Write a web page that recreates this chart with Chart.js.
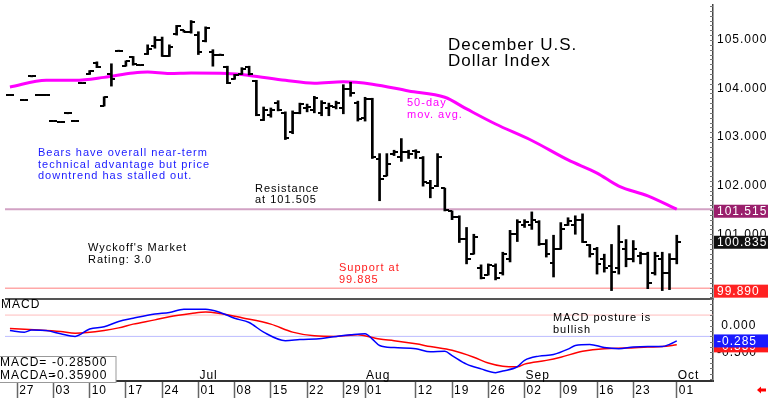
<!DOCTYPE html>
<html>
<head>
<meta charset="utf-8">
<script src="https://cdn.jsdelivr.net/npm/chart.js@4.4.1/dist/chart.umd.min.js"></script>
<style>
html,body{margin:0;padding:0;background:#fff}
canvas{display:block}
</style>
</head>
<body>
<canvas id="chart" width="768" height="398"></canvas>
<script>
// trading-day index of the first bar (0 = Mon May 27)
const firstDay = -1;

const opens = [103.87,null,103.76,104.25,103.87,103.87,103.33,103.31,103.49,103.33,104.11,
  104.29,104.53,103.65,104.30,104.78,104.47,104.65,104.48,104.72,104.88,
  105.00,104.68,105.12,105.20,105.16,105.10,104.98,104.75,104.70,104.44,
  104.20,104.30,104.44,104.15,103.36,103.45,103.70,103.50,103.10,103.50,
  103.60,103.55,103.50,103.60,103.62,103.60,104.00,103.70,103.40,103.78,
  102.55,102.20,102.65,102.60,102.70,102.72,102.58,102.05,102.00,101.95,
  101.48,101.35,100.90,100.60,100.30,100.16,100.35,100.20,100.50,101.00,
  101.20,101.20,101.25,100.80,100.40,100.70,101.20,101.20,101.30,100.78,
  100.70,100.50,100.35,100.30,100.70,100.50,100.55,100.60,100.20,100.50,
  100.20,100.50];
const highs = [103.88,null,103.77,104.26,103.88,103.88,103.34,103.32,103.50,103.34,104.12,
  104.37,104.55,103.83,104.51,104.79,104.57,104.66,104.49,104.90,105.07,
  105.06,104.90,105.30,105.20,105.40,105.17,105.27,104.80,104.71,104.46,
  104.29,104.43,104.46,104.17,103.62,103.60,103.75,103.52,103.54,103.70,
  103.68,103.84,103.75,103.70,103.74,104.08,104.13,103.74,103.82,103.80,
  102.66,102.66,102.73,102.97,102.73,102.74,102.60,102.11,102.66,101.95,
  101.48,101.38,101.14,101.00,100.37,100.39,100.39,100.63,101.08,101.30,
  101.30,101.46,101.28,100.89,100.98,101.24,101.34,101.38,101.42,100.79,
  100.73,100.59,100.79,101.18,100.89,100.87,100.63,100.63,100.63,100.63,
  100.60,100.98];
const lows = [103.86,null,103.75,104.24,103.86,103.86,103.32,103.30,103.48,103.32,104.10,
  104.29,104.43,103.64,104.05,104.77,104.46,104.48,104.47,104.70,104.83,
  104.66,104.66,105.10,105.16,105.14,104.70,104.96,104.46,104.69,104.10,
  104.19,104.29,104.28,103.44,103.34,103.41,103.54,102.95,103.07,103.48,
  103.52,103.50,103.44,103.44,103.58,103.48,103.84,103.33,103.33,102.56,
  101.69,102.20,102.62,102.50,102.56,102.56,101.99,101.75,101.98,101.48,
  101.30,100.83,100.39,100.59,100.08,100.16,100.06,100.16,100.43,100.85,
  101.14,101.10,100.77,100.53,100.12,100.69,101.18,101.00,100.83,100.53,
  100.18,100.22,99.84,100.18,100.33,100.43,100.39,99.88,100.16,99.84,
  99.86,100.39];
const closes = [103.87,null,103.76,104.25,103.87,103.87,103.33,103.31,103.49,103.33,104.11,
  104.37,104.45,103.82,104.20,104.78,104.56,104.50,104.48,104.82,105.00,
  104.68,104.85,105.28,105.16,105.38,104.75,105.25,104.70,104.70,104.12,
  104.27,104.40,104.30,103.46,103.55,103.55,103.56,102.98,103.50,103.68,
  103.62,103.80,103.70,103.65,103.70,104.00,103.90,103.38,103.78,102.60,
  102.13,102.45,102.70,102.70,102.66,102.70,102.08,101.95,102.60,101.50,
  101.35,100.90,100.50,100.95,100.10,100.37,100.10,100.60,101.00,101.25,
  101.25,101.30,100.80,100.60,100.70,101.10,101.28,101.30,100.85,100.60,
  100.39,100.30,100.22,100.85,100.50,100.70,100.60,100.00,100.55,100.20,
  100.50,100.835];

// 50-day moving average, read at these trading days
const maDays = [-1,4,8,12,16,18,21,24,29,32,37,41,45,49,54,59,62,66,71,76,80,83,87,91];
const maVals = [104.03,104.17,104.17,104.23,104.32,104.34,104.31,104.32,104.31,104.27,104.17,104.11,
  104.14,104.09,103.95,103.82,103.58,103.27,102.93,102.53,102.26,101.99,101.79,101.515];

// MACD (blue) and its average (red)
const macdDays = [-1,1,2,4,6,8,10,12,14,16,19,21,23,26,28,30,32,34,37,39,42,44,46,48,49,50,52,55,57,59,
  60,62,64,66,67,69,70,72,74,76,77,79,81,83,85,87,89,90,91];
const macdVals = [-0.09,-0.12,-0.08,-0.09,-0.15,-0.20,-0.06,-0.02,0.08,0.14,0.22,0.25,0.31,0.31,0.25,0.14,0.06,
  -0.12,-0.28,-0.26,-0.24,-0.20,-0.17,-0.15,-0.25,-0.37,-0.41,-0.43,-0.49,-0.48,
  -0.56,-0.72,-0.81,-0.88,-0.85,-0.77,-0.65,-0.57,-0.54,-0.44,-0.37,-0.35,-0.41,-0.43,-0.40,-0.39,-0.39,-0.35,-0.285];
const sigDays = [-1,3,6,8,12,14,16,19,21,24,26,28,31,35,38,41,44,47,49,50,52,55,57,60,63,65,67,69,70,73,75,78,81,84,87,89,91];
const sigVals = [-0.05,-0.08,-0.11,-0.14,-0.09,-0.04,0.03,0.11,0.17,0.23,0.26,0.23,0.15,0.03,-0.12,-0.19,-0.20,-0.17,
  -0.22,-0.25,-0.28,-0.34,-0.39,-0.46,-0.59,-0.70,-0.76,-0.77,-0.72,-0.65,-0.59,-0.48,-0.43,-0.42,-0.40,-0.39,-0.359];

// x axis
const tickDays = [0,5,10,15,20,25,30,35,40,45,48,55,60,65,70,75,80,85,91];
const tickLabels = ['27','03','10','17','24','01','08','15','22','29','01','12','19','26','02','09','16','23','01'];
const monthDays = [25,48,70,91];
const monthLabels = ['Jul','Aug','Sep','Oct'];

const resistance = 101.515, support = 99.89;
const macdUpper = 0.2, macdLower = -0.2;
const lastMacd = -0.285, lastSig = -0.359;

const FONT = "'Liberation Sans', Arial, sans-serif";

function tickImage(side) {
  const c = document.createElement('canvas');
  c.width = 8; c.height = 2;
  const g = c.getContext('2d');
  g.fillStyle = '#000';
  g.fillRect(side === 'left' ? 0 : 4, 0, 4, 2);
  return c;
}

const rangeData = [], openData = [], closeData = [];
opens.forEach((o, k) => {
  if (o === null) return;
  const d = k + firstDay;
  rangeData.push({x: d, y: [lows[k], highs[k]]});
  openData.push({x: d, y: o});
  closeData.push({x: d, y: closes[k]});
});
const maData = maDays.map((d, k) => ({x: d, y: maVals[k]}));
const macdData = macdDays.map((d, k) => ({x: d, y: macdVals[k]}));
const sigData = sigDays.map((d, k) => ({x: d, y: sigVals[k]}));

const notes = [
  {lines: ['December U.S.', 'Dollar Index'], x: 448, y: 45, size: 17, gap: 16, color: '#000'},
  {lines: ['50-day', 'mov. avg.'], x: 407, y: 103, size: 11, gap: 11.5, color: '#ff00ff'},
  {lines: ['Bears have overall near-term', 'technical advantage but price', 'downtrend has stalled out.'], x: 38, y: 153, size: 11, gap: 11.5, color: '#1a1aff'},
  {lines: ['Resistance', 'at 101.505'], x: 255, y: 189, size: 11, gap: 11, color: '#000'},
  {lines: ["Wyckoff's Market", 'Rating: 3.0'], x: 88, y: 248, size: 11, gap: 12, color: '#000'},
  {lines: ['Support at', '99.885'], x: 339, y: 268, size: 11, gap: 11.5, color: '#ff2020'},
  {lines: ['MACD posture is', 'bullish'], x: 553, y: 318, size: 11, gap: 11.5, color: '#000'}
];

function text(ctx, s, x, y, size, color) {
  ctx.font = size + 'px ' + FONT;
  ctx.fillStyle = color;
  ctx.textAlign = 'left';
  ctx.textBaseline = 'middle';
  ctx.fillText(s, x, y);
}

function hline(ctx, area, y, color, w) {
  ctx.strokeStyle = color;
  ctx.lineWidth = w;
  ctx.beginPath();
  ctx.moveTo(area.left, y);
  ctx.lineTo(area.right, y);
  ctx.stroke();
}

// no label overhang padding: panels fill the canvas edge to edge
function noPad(s) {
  s.paddingTop = 0; s.paddingBottom = 0; s.paddingLeft = 0; s.paddingRight = 0;
}

const decor = {
  id: 'decor',
  beforeUpdate(c) { c.ctx.letterSpacing = '1px'; },
  beforeDraw(c) { c.ctx.letterSpacing = '1px'; },
  beforeDatasetsDraw(c) {
    const {ctx, chartArea: a, scales: {y, y2}} = c;
    ctx.save();
    hline(ctx, a, y.getPixelForValue(resistance), '#d2a2c4', 2);
    hline(ctx, a, y.getPixelForValue(support), '#ffa8a8', 1.5);
    hline(ctx, a, y2.getPixelForValue(macdUpper), '#ffbcbc', 1);
    hline(ctx, a, y2.getPixelForValue(macdLower), '#bcbcff', 1);
    hline(ctx, a, y.bottom, '#555', 2);
    ctx.restore();
  },
  afterDraw(c) {
    const {ctx, chartArea: a, scales: {x, y, y2}} = c;
    ctx.save();
    ctx.letterSpacing = '1px';
    notes.forEach(n => n.lines.forEach((s, i) => text(ctx, s, n.x, n.y + i * n.gap, n.size, n.color)));
    text(ctx, 'MACD', 1, 305, 12, '#000');
    monthDays.forEach((d, i) => text(ctx, monthLabels[i], x.getPixelForValue(d) + 1, 376, 12, '#000'));

    // readout box
    ctx.fillStyle = '#fff';
    ctx.fillRect(0, 356, 116, 26);
    ctx.strokeStyle = '#999';
    ctx.lineWidth = 1;
    ctx.strokeRect(-1, 356.5, 117, 26);
    text(ctx, 'MACD=', 0, 363, 12, '#000');
    text(ctx, lastMacd.toFixed(5), 52, 363, 12, '#000');
    text(ctx, 'MACDA=', 0, 376, 12, '#000');
    text(ctx, lastSig.toFixed(5), 52, 376, 12, '#000');

    // minor ticks along the value axis
    ctx.strokeStyle = '#777';
    ctx.lineWidth = 1;
    ctx.beginPath();
    for (let v = 99.7; v < y.max; v += 0.1) {
      const p = Math.round(y.getPixelForValue(v)) + 0.5;
      ctx.moveTo(a.right - 3, p); ctx.lineTo(a.right, p);
    }
    for (let v = -1.0; v < y2.max; v += 0.1) {
      const p = Math.round(y2.getPixelForValue(v)) + 0.5;
      ctx.moveTo(a.right - 3, p); ctx.lineTo(a.right, p);
    }
    ctx.stroke();

    // last-value tags on the axis
    const tag = (py, label, bg) => {
      ctx.fillStyle = bg;
      ctx.fillRect(a.right + 1, py - 6.5, 768 - a.right, 13);
      text(ctx, label, a.right + 4, py + 0.5, 12, '#fff');
    };
    tag(y.getPixelForValue(resistance) + 2, resistance.toFixed(3), '#9a1f6c');
    tag(y.getPixelForValue(closes[closes.length - 1]), closes[closes.length - 1].toFixed(3), '#111');
    tag(y.getPixelForValue(support) + 3, support.toFixed(3), '#ff2222');
    tag(y2.getPixelForValue(lastSig) + 1, lastSig.toFixed(3), '#ff1a1a');
    tag(y2.getPixelForValue(lastMacd), lastMacd.toFixed(3), '#1a1aff');

    // little red arrow, bottom right
    ctx.fillStyle = '#ff0000';
    ctx.beginPath();
    ctx.moveTo(757, 390); ctx.lineTo(761, 386.5); ctx.lineTo(761, 393.5); ctx.closePath();
    ctx.fill();
    ctx.fillRect(761, 388.5, 5, 3);
    ctx.restore();
  }
};

new Chart(document.getElementById('chart'), {
  data: {
    datasets: [
      {type: 'line', data: maData, yAxisID: 'y', borderColor: '#ff00ff', borderWidth: 3, pointRadius: 0,
       cubicInterpolationMode: 'monotone', order: 5},
      {type: 'bar', data: rangeData, yAxisID: 'y', backgroundColor: '#000', borderWidth: 0,
       barThickness: 2, grouped: false, order: 2},
      {type: 'line', data: openData, yAxisID: 'y', showLine: false, pointStyle: tickImage('left'),
       pointRadius: 4, order: 1},
      {type: 'line', data: closeData, yAxisID: 'y', showLine: false, pointStyle: tickImage('right'),
       pointRadius: 4, order: 1},
      {type: 'line', data: sigData, yAxisID: 'y2', borderColor: '#ff0000', borderWidth: 1.5, pointRadius: 0,
       cubicInterpolationMode: 'monotone', order: 4},
      {type: 'line', data: macdData, yAxisID: 'y2', borderColor: '#0000ff', borderWidth: 1.5, pointRadius: 0,
       cubicInterpolationMode: 'monotone', order: 3}
    ]
  },
  options: {
    responsive: false,
    animation: false,
    devicePixelRatio: 1,
    events: [],
    layout: {padding: 0},
    plugins: {legend: {display: false}, tooltip: {enabled: false}},
    scales: {
      x: {
        type: 'linear', position: 'bottom', min: -1.68, max: 96, offset: false,
        afterBuildTicks: s => { s.ticks = tickDays.map(v => ({value: v})); },
        afterFit: s => { s.height = 17; noPad(s); },
        grid: {drawOnChartArea: false, drawTicks: true, tickLength: 17, tickColor: '#666', tickWidth: 1.5, offset: false},
        border: {display: true, color: '#333', width: 2},
        ticks: {
          autoSkip: false, maxRotation: 0, align: 'start', labelOffset: 2, padding: -15,
          color: '#000', font: {family: FONT, size: 12},
          callback: v => tickLabels[tickDays.indexOf(v)] ?? ''
        }
      },
      y: {
        type: 'linear', position: 'right', stack: 'panels', stackWeight: 298,
        min: 99.665, max: 105.72,
        afterFit: s => { s.width = 55; noPad(s); },
        grid: {drawOnChartArea: false, drawTicks: false},
        border: {display: true, color: '#444', width: 1.5},
        ticks: {
          stepSize: 1, autoSkip: false, padding: 4, color: '#000', font: {family: FONT, size: 12},
          callback: v => Math.abs(v - Math.round(v)) < 1e-6 ? v.toFixed(3) : ''
        }
      },
      y2: {
        type: 'linear', position: 'right', stack: 'panels', stackWeight: 83,
        min: -1.037, max: 0.5,
        afterFit: s => { s.width = 55; noPad(s); },
        grid: {drawOnChartArea: false, drawTicks: false},
        border: {display: true, color: '#444', width: 1.5},
        ticks: {
          stepSize: 0.5, autoSkip: false, padding: 4, color: '#000', font: {family: FONT, size: 12},
          callback: v => Math.abs(v) < 1e-6 ? ' 0.000' : (Math.abs(v + 0.5) < 1e-6 ? '-0.500' : '')
        }
      }
    }
  },
  plugins: [decor]
});
</script>
</body>
</html>
